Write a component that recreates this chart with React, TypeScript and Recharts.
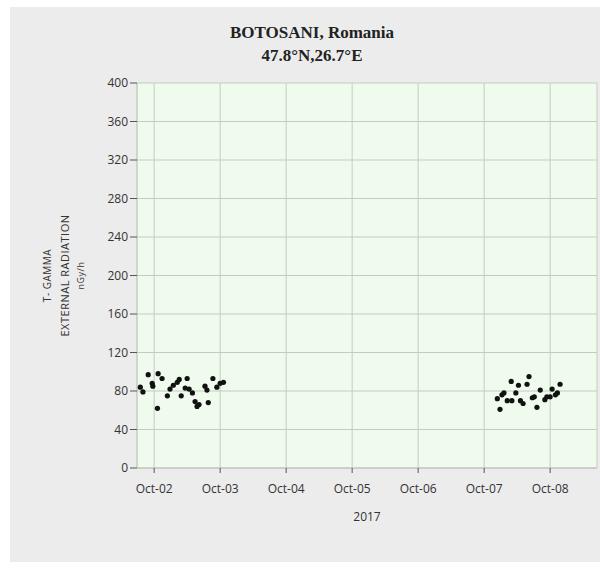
import React from "react"
import { CartesianGrid, Label, Scatter, ScatterChart, XAxis, YAxis } from "recharts"

// observation time as day of October 2017 (fractional), dose rate in nGy/h
const obsDays = [
    1.79, 1.83, 1.91, 1.97, 1.98, 2.05, 2.06, 2.12, 2.2, 2.24, 2.29, 2.35, 2.38, 2.41,
    2.47, 2.5, 2.53, 2.58, 2.62, 2.65, 2.68, 2.77, 2.8, 2.82, 2.89, 2.95, 3.0, 3.05,
    7.2, 7.24, 7.27, 7.3, 7.35, 7.41, 7.42, 7.48, 7.52, 7.55, 7.59, 7.65, 7.68, 7.73,
    7.76, 7.8, 7.85, 7.92, 7.95, 8.0, 8.03, 8.08, 8.11, 8.15,
]
const doseRates = [
    84, 79, 97, 88, 85, 62, 98, 93, 75, 82, 86, 89, 92, 75,
    83, 93, 82, 78, 69, 64, 66, 85, 81, 68, 93, 84, 88, 89,
    72, 61, 76, 78, 70, 90, 70, 78, 86, 70, 67, 87, 95, 73,
    74, 63, 81, 71, 74, 74, 82, 76, 78, 87,
]
const dayTicks = [2, 3, 4, 5, 6, 7, 8]
const doseTicks = [0, 40, 80, 120, 160, 200, 240, 280, 320, 360, 400]

const points = obsDays.map((day, i) => ({ day, dose: doseRates[i] }))

const sans = "'Open Sans', sans-serif"

const YTitle = ({ viewBox }) => {
    const cy = viewBox.y + viewBox.height / 2
    const line = (x, size, text) => (
        <text x={x} y={cy} transform={`rotate(-90 ${x} ${cy})`} textAnchor="middle"
            dominantBaseline="central" fontFamily={sans} fontSize={size} letterSpacing={0.5} fill="#333">{text}</text>
    )
    return (<g>
        {line(47, 10, "T- GAMMA")}
        {line(64, 11, "EXTERNAL RADIATION")}
        {line(80, 9, "nGy/h")}
    </g>)
}

const Dot = ({ cx, cy }) => <circle cx={cx} cy={cy} r={2.6} fill="#111" />

const App = () => {
    return (
        <div style={{ position: "absolute", left: 0, top: 0, width: 600, height: 568, background: "#fff" }}>
            <div style={{ position: "absolute", left: 10, top: 7, right: 0, bottom: 6, background: "#ececec" }} />
            <div style={{
                position: "absolute", left: 202, top: 21, width: 220, textAlign: "center",
                fontFamily: "'Liberation Serif', serif", fontWeight: "bold", fontSize: 17, lineHeight: "23px", color: "#222",
            }}>
                <div>BOTOSANI, Romania</div>
                <div>47.8°N,26.7°E</div>
            </div>
            <ScatterChart
                width={600}
                height={568}
                margin={{ top: 83, right: 3, bottom: 40, left: 87 }}
                style={{ position: "absolute", left: 0, top: 0 }}
            >
                <CartesianGrid stroke="#c4ccc1" fill="#effbec" />
                <XAxis
                    type="number"
                    dataKey="day"
                    domain={[1.74, 8.71]}
                    ticks={dayTicks}
                    allowDataOverflow
                    height={60}
                    tickSize={5}
                    tickMargin={11}
                    tickLine={{ stroke: "#555" }}
                    axisLine={{ stroke: "#b9c0b6" }}
                    tick={{ fontFamily: sans, fontSize: 12, fill: "#333" }}
                    tickFormatter={(d) => `Oct-0${d}`}
                >
                    <Label value="2017" position="insideBottom" offset={7}
                        style={{ fontFamily: sans, fontSize: 12, fill: "#333" }} />
                </XAxis>
                <YAxis
                    type="number"
                    dataKey="dose"
                    domain={[0, 400]}
                    ticks={doseTicks}
                    width={50}
                    tickSize={7}
                    tickMargin={2}
                    tickLine={{ stroke: "#555" }}
                    axisLine={{ stroke: "#c4ccc1" }}
                    tick={{ fontFamily: sans, fontSize: 12, fill: "#333" }}
                    label={<YTitle />}
                />
                <Scatter data={points} shape={<Dot />} isAnimationActive={false} />
            </ScatterChart>
        </div>
    )
}

export default App
